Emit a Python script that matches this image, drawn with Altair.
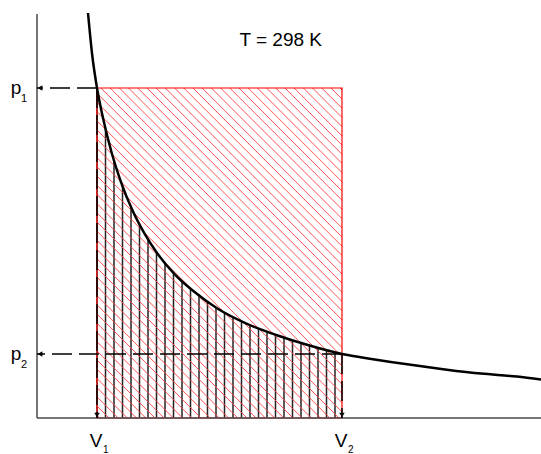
import altair as alt
import pandas as pd
import numpy as np

# ---- data (arbitrary units) ----
V1, V2 = 1.0, 5.083
P1, P2 = 5.5, 1.067
curve_V = [0.85, 0.92, 1.0, 1.1, 1.25, 1.4, 1.6, 1.8, 2.0, 2.3, 2.6, 3.0, 3.5,
           4.0, 4.5, 5.083, 5.6, 6.2, 6.8, 7.4, 8.0, 8.4]
curve_p = [6.75, 6.05, 5.5, 5.0, 4.4, 3.93, 3.44, 3.06, 2.75, 2.39, 2.12, 1.83, 1.57,
           1.38, 1.22, 1.067, 0.98, 0.89, 0.81, 0.74, 0.69, 0.64]
title_text = "T = 298 K"

XMAX, YMAX = 8.4, 6.7333
W, H = 504, 404

curve = pd.DataFrame({"V": curve_V, "p": curve_p})
under = curve[(curve.V >= V1) & (curve.V <= V2)].copy()
under["top"] = P1

# hatch helpers (decoration)
s_red = 9.2 / 60.0
cs = np.arange(V1 + s_red * 0.3, V2 + P1, s_red)
red_rows = []
for c in cs:
    if c - P1 >= V1:
        xa, ya = c - P1, P1
    else:
        xa, ya = V1, c - V1
    if c <= V2:
        xb, yb = c, 0.0
    else:
        xb, yb = V2, c - V2
    red_rows.append({"x": xa, "y": ya, "x2": xb, "y2": yb})
red = pd.DataFrame(red_rows)

s_blk = 8.5 / 60.0
bv = np.arange(V1, V2 + 1e-6, s_blk)
blk = pd.DataFrame({"x": bv, "y": 0.0, "y2": P1})

xs = alt.Scale(domain=[0, XMAX], nice=False, zero=False)
ys = alt.Scale(domain=[0, YMAX], nice=False, zero=False)
X = lambda f: alt.X(f, type="quantitative", scale=xs, axis=None)
Y = lambda f: alt.Y(f, type="quantitative", scale=ys, axis=None)

axes_df = pd.DataFrame({"x": [0.0, 0.0], "x2": [0.0, XMAX], "y": [0.0, 0.0], "y2": [YMAX, 0.0]})
axes = alt.Chart(axes_df).mark_rule(color="#4a4a4a", strokeWidth=1.5).encode(
    x=X("x"), x2="x2", y=Y("y"), y2="y2")

black_hatch = alt.Chart(blk).mark_rule(color="#222", strokeWidth=1.5).encode(
    x=X("x"), y=Y("y"), y2="y2")

white_cover = alt.Chart(under).mark_area(color="white", interpolate="monotone",
                                          stroke="white", strokeWidth=1).encode(
    x=X("V"), y=Y("p"), y2="top")

red_hatch = alt.Chart(red).mark_rule(color="#ff4040", strokeWidth=1, opacity=0.9).encode(
    x=X("x"), y=Y("y"), x2="x2", y2="y2")

rect = alt.Chart(pd.DataFrame({"a": [V1], "b": [V2], "c": [0.0], "d": [P1]})).mark_rect(
    filled=False, stroke="red", strokeWidth=1.2).encode(
    x=X("a"), x2="b", y=Y("c"), y2="d")

dash_df = pd.DataFrame({
    "x": [V1, V1, V2, V2], "x2": [0.0, V1, 0.0, V2],
    "y": [P1, P1, P2, P2], "y2": [P1, 0.0, P2, 0.0]})
dashes = alt.Chart(dash_df).mark_rule(color="black", strokeWidth=1.5, strokeDash=[20, 7]).encode(
    x=X("x"), x2="x2", y=Y("y"), y2="y2")

arrow_left = alt.Chart(pd.DataFrame({"x": [0.0, 0.0], "y": [P1, P2]})).mark_point(
    shape="triangle-left", filled=True, color="black", size=30, opacity=1, xOffset=3).encode(
    x=X("x"), y=Y("y"))
arrow_down = alt.Chart(pd.DataFrame({"x": [V1, V2], "y": [0.0, 0.0]})).mark_point(
    shape="triangle-down", filled=True, color="black", size=30, opacity=1, yOffset=-3).encode(
    x=X("x"), y=Y("y"))

line = alt.Chart(curve).mark_line(color="black", strokeWidth=2.5, interpolate="monotone").encode(
    x=X("V"), y=Y("p"))

FONT = "Liberation Sans"
p_lab = alt.Chart(pd.DataFrame({"y": [P1, P2], "t": ["p", "p"]})).mark_text(
    font=FONT, fontSize=19, align="center", baseline="alphabetic", dy=6, color="black").encode(
    x=alt.value(-21), y=Y("y"), text="t:N")
p_sub = alt.Chart(pd.DataFrame({"y": [P1, P2], "t": ["1", "2"]})).mark_text(
    font=FONT, fontSize=11, align="left", baseline="alphabetic", dy=14, color="black").encode(
    x=alt.value(-16), y=Y("y"), text="t:N")
v_lab = alt.Chart(pd.DataFrame({"x": [V1, V2], "t": ["V", "V"]})).mark_text(
    font=FONT, fontSize=19, align="center", baseline="alphabetic", dx=-1, color="black").encode(
    x=X("x"), y=alt.value(433), text="t:N")
v_sub = alt.Chart(pd.DataFrame({"x": [V1, V2], "t": ["1", "2"]})).mark_text(
    font=FONT, fontSize=10, align="left", baseline="alphabetic", dx=6, color="black").encode(
    x=X("x"), y=alt.value(439), text="t:N")
t_lab = alt.Chart(pd.DataFrame({"t": [title_text]})).mark_text(
    font=FONT, fontSize=19, align="right", baseline="alphabetic", color="black").encode(
    x=alt.value(285), y=alt.value(32), text="t:N")

chart = alt.layer(
    black_hatch, white_cover, red_hatch, rect, axes, dashes, arrow_left, arrow_down,
    line, p_lab, p_sub, v_lab, v_sub, t_lab
).properties(
    width=W, height=H,
    padding={"left": 37, "top": 14, "right": 0, "bottom": 36},
    autosize=alt.AutoSizeParams(type="none"),
).configure(background="white").configure_view(stroke=None)

chart.save("out.html", embed_options={"renderer": "svg", "actions": False})
